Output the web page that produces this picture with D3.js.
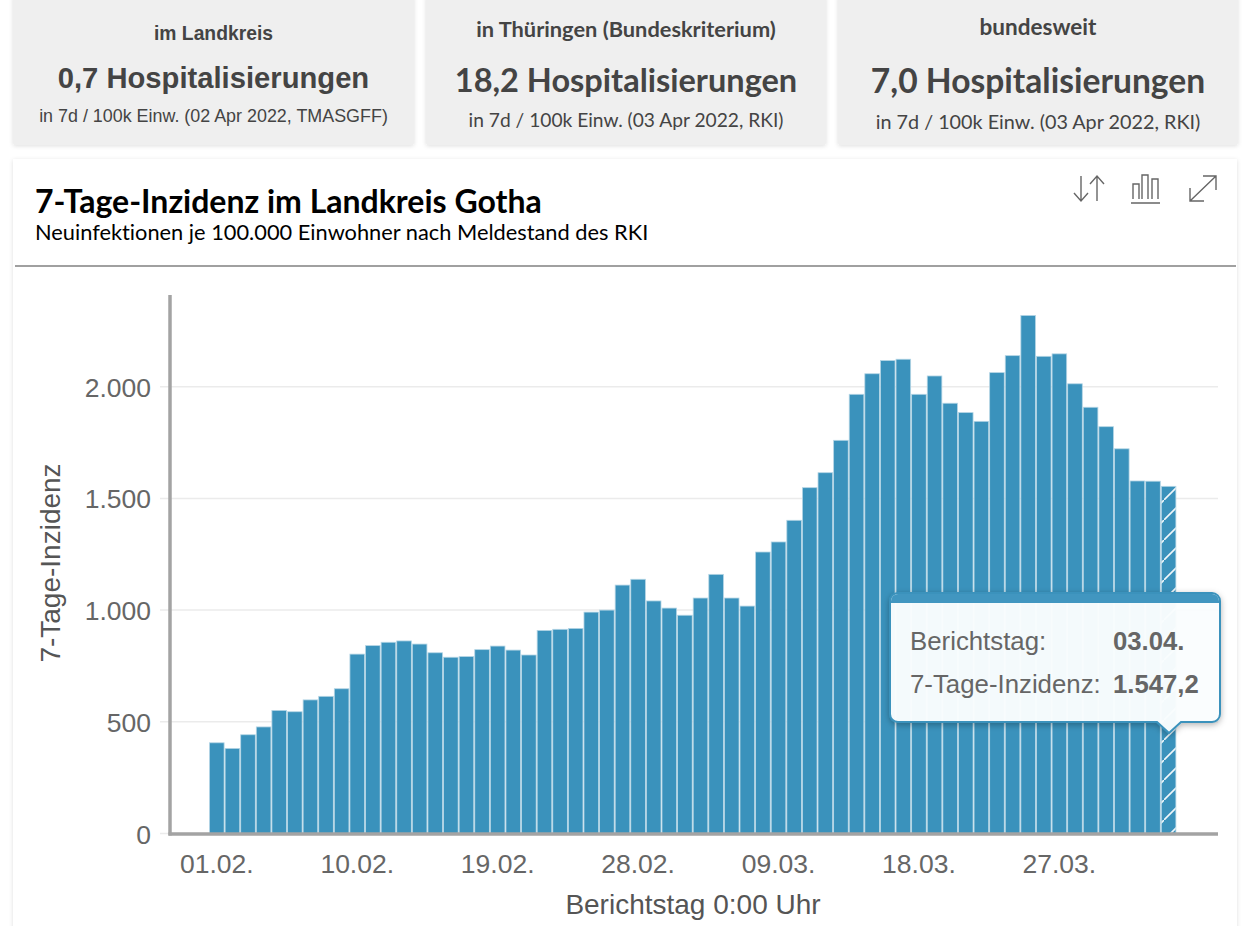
<!DOCTYPE html>
<html lang="de"><head><meta charset="utf-8">
<style>html,body{margin:0;padding:0;background:#fff;overflow:hidden}svg{display:block}text{font-variant-ligatures:none}</style>
<script src="https://cdn.jsdelivr.net/npm/d3@7/dist/d3.min.js"></script>
</head><body><div id="chart"></div>
<script>
const days = ["01.02.","02.02.","03.02.","04.02.","05.02.","06.02.","07.02.","08.02.","09.02.","10.02.","11.02.","12.02.","13.02.","14.02.","15.02.","16.02.","17.02.","18.02.","19.02.","20.02.","21.02.","22.02.","23.02.","24.02.","25.02.","26.02.","27.02.","28.02.","01.03.","02.03.","03.03.","04.03.","05.03.","06.03.","07.03.","08.03.","09.03.","10.03.","11.03.","12.03.","13.03.","14.03.","15.03.","16.03.","17.03.","18.03.","19.03.","20.03.","21.03.","22.03.","23.03.","24.03.","25.03.","26.03.","27.03.","28.03.","29.03.","30.03.","31.03.","01.04.","02.04.","03.04."];
const incidence = [406,381,442,477,551,545,598,614,648,803,841,856,862,848,809,789,792,823,839,821,799,909,914,918,991,1000,1112,1138,1041,1009,977,1054,1160,1054,1018,1260,1305,1402,1548,1615,1760,1966,2058,2117,2123,1966,2048,1926,1884,1845,2063,2139,2319,2136,2147,2013,1908,1821,1722,1578,1577,1554];
const xTickLabels = ["01.02.","10.02.","19.02.","28.02.","09.03.","18.03.","27.03."];
const yTickValues = [0,500,1000,1500,2000];
const cardHeads = ["im Landkreis","in Thüringen (Bundeskriterium)","bundesweit"];
const cardValues = ["0,7 Hospitalisierungen","18,2 Hospitalisierungen","7,0 Hospitalisierungen"];
const cardNotes = ["in 7d / 100k Einw. (02 Apr 2022, TMASGFF)","in 7d / 100k Einw. (03 Apr 2022, RKI)","in 7d / 100k Einw. (03 Apr 2022, RKI)"];
const tooltipLabels = ["Berichtstag:","7-Tage-Inzidenz:"];
const tooltipValues = ["03.04.","1.547,2"];

const W=1242,H=926;
const svg=d3.select("#chart").append("svg").attr("width",W).attr("height",H).attr("viewBox",`0 0 ${W} ${H}`);
const defs=svg.append("defs");
const shadow=(id,dy,sd,op)=>{defs.append("filter").attr("id",id).attr("x","-10%").attr("y","-10%").attr("width","120%").attr("height","125%")
  .append("feDropShadow").attr("dx",0).attr("dy",dy).attr("stdDeviation",sd).attr("flood-color","#000").attr("flood-opacity",op);};
shadow("cardShadow",1,2,.13);shadow("tipShadow",2,3,.3);
const pat=defs.append("pattern").attr("id","hatch").attr("patternUnits","userSpaceOnUse").attr("width",20).attr("height",20).attr("patternTransform","translate(4,0)");
pat.append("rect").attr("width",20).attr("height",20).attr("fill","#3a92bc");
pat.append("path").attr("d","M-2,22L22,-2").attr("stroke","#eef6fa").attr("stroke-width",1.6);

// cards
const cardX=[[13,414],[426,826],[838,1238]];
const headY=[40,37,35],valY=[88,92,93],noteY=[122,127,129];
const headSize=[19.3,21.8,22.5],valSize=[29.2,32.5,33.6],noteSize=[17.9,19.2,19.8];
const lato="Lato, 'Open Sans', sans-serif",lib="'Liberation Sans', Arial, sans-serif";
cardX.forEach((c,i)=>{
  const g=svg.append("g"),cx=(c[0]+c[1])/2,f=i===0?lib:lato;
  g.append("rect").attr("x",c[0]).attr("y",-6).attr("width",c[1]-c[0]).attr("height",151).attr("rx",2).attr("fill","#efefef").attr("filter","url(#cardShadow)");
  g.append("text").attr("x",cx).attr("y",headY[i]).attr("text-anchor","middle").attr("font-family",f).attr("font-weight",700).attr("font-size",headSize[i]).attr("fill","#444").text(cardHeads[i]);
  g.append("text").attr("x",cx).attr("y",valY[i]).attr("text-anchor","middle").attr("font-family",f).attr("font-weight",700).attr("font-size",valSize[i]).attr("fill","#444").text(cardValues[i]);
  g.append("text").attr("x",cx).attr("y",noteY[i]).attr("text-anchor","middle").attr("font-family",f).attr("font-size",noteSize[i]).attr("fill","#444").text(cardNotes[i]);
});

// panel
svg.append("rect").attr("x",13).attr("y",159).attr("width",1224).attr("height",790).attr("fill","#fff").attr("filter","url(#cardShadow)");
svg.append("text").attr("x",35).attr("y",213).attr("font-family",lato).attr("font-weight",700).attr("font-size",32).attr("fill","#000").text("7-Tage-Inzidenz im Landkreis Gotha");
svg.append("text").attr("x",35).attr("y",240).attr("font-family",lato).attr("font-size",21.8).attr("fill","#000").text("Neuinfektionen je 100.000 Einwohner nach Meldestand des RKI");
svg.append("line").attr("x1",15).attr("x2",1236).attr("y1",266).attr("y2",266).attr("stroke","#808080").attr("stroke-width",1.5);

// icons
const ic=svg.append("g").attr("fill","none").attr("stroke","#666").attr("stroke-width",1.4);
ic.append("path").attr("d","M1081,176V201M1074,193L1081,201L1088,193M1097,201V176M1090,184L1097,176L1104,184");
ic.append("path").attr("d","M1131,203H1160M1133,199V184H1139V199M1142,199V175H1148V199M1152,199V179H1158V199");
ic.append("path").attr("d","M1190,201L1216,176M1203,176H1216V190M1190,188V201H1204");

// scales
const x=d3.scaleBand().domain(days).range([209.3,1176.7]).paddingInner(0);
const y=d3.scaleLinear().domain([0,2000]).range([833.5,386.7]);
const plotLeft=170,plotRight=1218,plotTop=295;

// grid
svg.append("g").selectAll("line").data(yTickValues).join("line")
  .attr("x1",160).attr("x2",plotRight).attr("y1",d=>y(d)).attr("y2",d=>y(d)).attr("stroke","#ebebeb").attr("stroke-width",1.5);

// bars
svg.append("g").selectAll("rect").data(days).join("rect")
  .attr("x",d=>x(d)+.2).attr("y",(d,i)=>y(incidence[i]))
  .attr("width",x.bandwidth()-1).attr("height",(d,i)=>y(0)-y(incidence[i]))
  .attr("fill",(d,i)=>i===days.length-1?"url(#hatch)":"#3a92bc")
  .attr("stroke","#b4d5e5").attr("stroke-width",.8);

// axes
const fmt=d=>d3.format(",")(d).replace(/,/g,".");
const yAxis=d3.axisLeft(y).tickValues(yTickValues).tickFormat(fmt).tickSize(0).tickPadding(19);
const gy=svg.append("g").attr("transform",`translate(${plotLeft},0)`).call(yAxis);
gy.select(".domain").remove();
gy.selectAll("text").attr("font-family",lib).attr("font-size",26.5).attr("fill","#666").attr("dy","0.36em");
const xAxis=d3.axisBottom(x).tickValues(xTickLabels).tickSize(0).tickPadding(20);
const gx=svg.append("g").attr("transform","translate(0,834)").call(xAxis);
gx.select(".domain").remove();
gx.selectAll("text").attr("font-family",lib).attr("font-size",26.5).attr("fill","#666").attr("dx",-0.3);
svg.append("line").attr("x1",plotLeft).attr("x2",plotLeft).attr("y1",plotTop).attr("y2",835.5).attr("stroke","#a3a3a3").attr("stroke-width",3.5);
svg.append("line").attr("x1",168.5).attr("x2",plotRight).attr("y1",834).attr("y2",834).attr("stroke","#a3a3a3").attr("stroke-width",3.5);
svg.append("text").attr("x",693).attr("y",914).attr("text-anchor","middle").attr("font-family",lib).attr("font-size",28).attr("fill","#555").text("Berichtstag 0:00 Uhr");
svg.append("text").attr("transform","translate(60,563) rotate(-90)").attr("text-anchor","middle").attr("font-family",lib).attr("font-size",28).attr("fill","#555").text("7-Tage-Inzidenz");

// tooltip
const tip=svg.append("g");
const tipPath="M898,593H1212a8,8 0 0 1 8,8V714a8,8 0 0 1 -8,8H1181L1169,733L1157,722H898a8,8 0 0 1 -8,-8V601a8,8 0 0 1 8,-8Z";
tip.append("path").attr("d",tipPath).attr("fill","#fbfeff").attr("fill-opacity",.96).attr("stroke","#3a92bc").attr("stroke-width",2).attr("filter","url(#tipShadow)");
tip.append("path").attr("d","M891,603V601a7,7 0 0 1 7,-7H1212a7,7 0 0 1 7,7V603Z").attr("fill","#4196c0");
tip.selectAll("text.l").data(tooltipLabels).join("text").attr("class","l").attr("x",910).attr("y",(d,i)=>650+i*43)
  .attr("font-family",lib).attr("font-size",25.8).attr("fill","#666").text(d=>d);
tip.selectAll("text.v").data(tooltipValues).join("text").attr("class","v").attr("x",1113).attr("y",(d,i)=>650+i*43)
  .attr("font-family",lib).attr("font-weight",700).attr("font-size",25.7).attr("fill","#666").text(d=>d);
</script></body></html>
